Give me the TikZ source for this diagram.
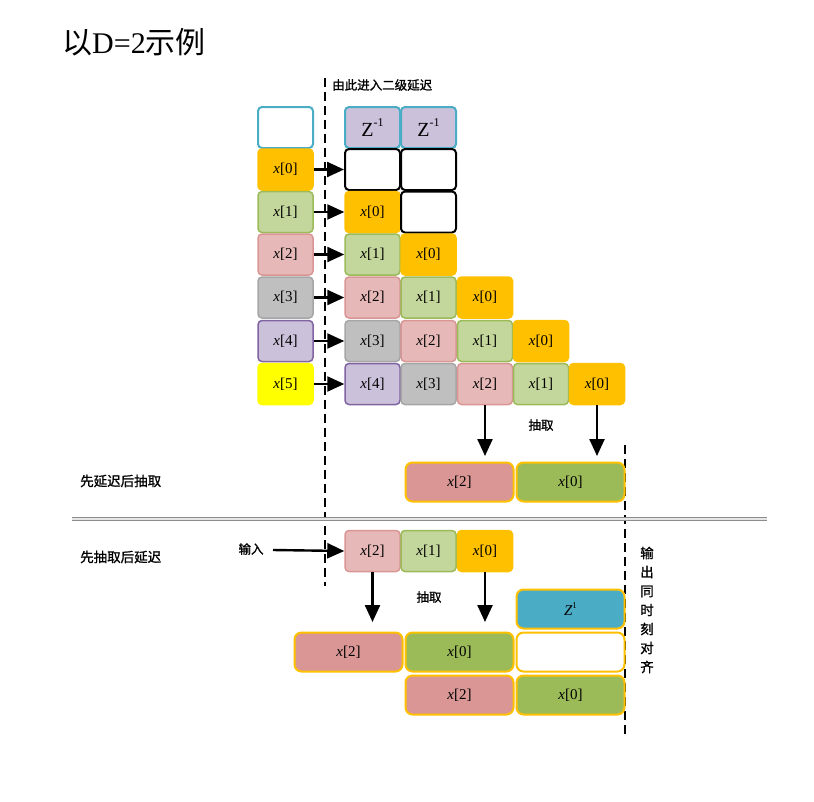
\documentclass[tikz,border=0pt]{standalone}
\usepackage{fontspec}
\setmainfont{Liberation Serif}
\newfontfamily\cjk{Noto Sans CJK SC}
\newfontfamily\cjkb{Noto Sans CJK SC}[FakeBold=1.2]
\usetikzlibrary{arrows.meta}
\definecolor{cO}{HTML}{FFC000}
\definecolor{cG}{HTML}{C3D69B}
\definecolor{cGd}{HTML}{9BBB59}
\definecolor{cP}{HTML}{E6B9B8}
\definecolor{cPd}{HTML}{D99694}
\definecolor{cS}{HTML}{BFBFBF}
\definecolor{cSd}{HTML}{A6A6A6}
\definecolor{cV}{HTML}{CCC1DA}
\definecolor{cVd}{HTML}{8064A2}
\definecolor{cYe}{HTML}{FFFF00}
\definecolor{cT}{HTML}{4BACC6}
\newcommand{\xv}[1]{\textit{x}[#1]}
\newcommand{\zinv}{Z\raisebox{1.1ex}{\fontsize{12}{12}\selectfont -1}}
\begin{document}
\begin{tikzpicture}[x=1pt,y=-1pt,
  cell/.style={rounded corners=4pt, minimum width=55pt, minimum height=41pt, inner sep=0pt, line width=1.5pt, font=\fontsize{15}{15}\selectfont},
  c0/.style={cell, fill=cO, draw=cO},
  c1/.style={cell, fill=cG, draw=cGd},
  c2/.style={cell, fill=cP, draw=cPd},
  c3/.style={cell, fill=cS, draw=cSd},
  c4/.style={cell, fill=cV, draw=cVd},
  c5/.style={cell, fill=cYe, draw=cYe},
  et/.style={cell, fill=white, draw=cT, line width=2pt},
  ek/.style={cell, fill=white, draw=black, line width=2pt},
  zb/.style={cell, fill=cV, draw=cT, line width=2pt, font=\fontsize{20}{20}\selectfont},
  wide/.style={rounded corners=7pt, minimum width=108pt, minimum height=39pt, inner sep=0pt, line width=2pt, draw=cO, font=\fontsize{15}{15}\selectfont},
  wP/.style={wide, fill=cPd},
  wG/.style={wide, fill=cGd},
  wB/.style={wide, fill=cT},
  wW/.style={wide, fill=white},
  arr/.style={line width=2.4pt, -{Triangle[length=17pt,width=15pt]}},
  dline/.style={line width=1.6pt, dash pattern=on 9pt off 5pt},
  lab/.style={font=\cjkb\fontsize{12.5}{12.5}\selectfont, inner sep=0pt}
]
\useasboundingbox (0,0) rectangle (814,801);

% title
\node[anchor=west, inner sep=0pt, font=\fontsize{30}{30}\selectfont] (title) at (62,42) {{\cjk 以}D=2{\cjk 示例}};

% dashed lines
\coordinate (d1a) at (325,78);
\coordinate (d1b) at (325,586);
\coordinate (d2a) at (625,445);
\coordinate (d2b) at (625,735);
\draw[dline] (d1a) -- (d1b);
\draw[dline] (d2a) -- (d2b);

\node[lab, anchor=west] (enter) at (332,85) {由此进入二级延迟};

% left column
\node[et] (l0) at (285.5,127.5) {};
\node[c0] (l1) at (285.5,169.5) {\xv{0}};
\node[c1] (l2) at (285.5,212) {\xv{1}};
\node[c2] (l3) at (285.5,254.5) {\xv{2}};
\node[c3] (l4) at (285.5,297.5) {\xv{3}};
\node[c4] (l5) at (285.5,341) {\xv{4}};
\node[c5] (l6) at (285.5,384) {\xv{5}};

% grid
\node[zb] (g00) at (372.5,127.5) {\zinv};
\node[zb] (g01) at (428.5,127.5) {\zinv};
\node[ek] (g10) at (372.5,169.5) {};
\node[ek] (g11) at (428.5,169.5) {};
\node[c0] (g20) at (372.5,212) {\xv{0}};
\node[ek] (g21) at (428.5,212) {};
\node[c1] (g30) at (372.5,254.5) {\xv{1}};
\node[c0] (g31) at (428.5,254.5) {\xv{0}};
\node[c2] (g40) at (372.5,297.5) {\xv{2}};
\node[c1] (g41) at (428.5,297.5) {\xv{1}};
\node[c0] (g42) at (485,297.5) {\xv{0}};
\node[c3] (g50) at (372.5,341) {\xv{3}};
\node[c2] (g51) at (428.5,341) {\xv{2}};
\node[c1] (g52) at (485,341) {\xv{1}};
\node[c0] (g53) at (541,341) {\xv{0}};
\node[c4] (g60) at (372.5,384) {\xv{4}};
\node[c3] (g61) at (428.5,384) {\xv{3}};
\node[c2] (g62) at (485,384) {\xv{2}};
\node[c1] (g63) at (541,384) {\xv{1}};
\node[c0] (g64) at (597,384) {\xv{0}};

\foreach \i in {1,...,6} \draw[arr] (l\i.east) -- (g\i0.west);

% delay then decimate
\node[wP] (a1) at (459.5,482) {\xv{2}};
\node[wG] (a2) at (570.5,482) {\xv{0}};
\coordinate (ae1) at (485,456);
\coordinate (ae2) at (597,456);
\draw[arr] (g62.south) -- (ae1);
\draw[arr] (g64.south) -- (ae2);
\node[lab] (dec1) at (541,425) {抽取};
\node[lab, anchor=west, font=\cjkb\fontsize{13.5}{13.5}\selectfont] (m1) at (80,481) {先延迟后抽取};

% separator
\coordinate (s1) at (72,519);
\coordinate (s2) at (767,519);
\draw[gray!90, double=gray!20, double distance=1.2pt, line width=1pt] (s1) -- (s2);

% decimate then delay
\node[lab, anchor=west, font=\cjkb\fontsize{13.5}{13.5}\selectfont] (m2) at (80,557) {先抽取后延迟};
\node[lab] (inp) at (251,549) {输入};
\coordinate (ia) at (273,550);
\node[c2] (b0) at (372.5,551) {\xv{2}};
\node[c1] (b1) at (428.5,551) {\xv{1}};
\node[c0] (b2) at (485,551) {\xv{0}};
\draw[arr] (ia) -- (b0.west);
\coordinate (be1) at (372.5,622);
\coordinate (be2) at (485,622);
\draw[arr] (b0.south) -- (be1);
\draw[arr] (b2.south) -- (be2);
\node[lab] (dec2) at (429,597) {抽取};

\node[wB] (zc) at (570.5,609) {\textit{Z}\raisebox{1.0ex}{\fontsize{9}{9}\selectfont 1}};
\node[wP] (p1) at (348.5,652) {\xv{2}};
\node[wG] (p2) at (459.5,652) {\xv{0}};
\node[wW] (p3) at (570.5,652) {};
\node[wP] (q1) at (459.5,695) {\xv{2}};
\node[wG] (q2) at (570.5,695) {\xv{0}};

\node[lab, align=center, font=\cjkb\fontsize{13.5}{19}\selectfont] (outv) at (647,610) {输\\出\\同\\时\\刻\\对\\齐};
\end{tikzpicture}
\end{document}
